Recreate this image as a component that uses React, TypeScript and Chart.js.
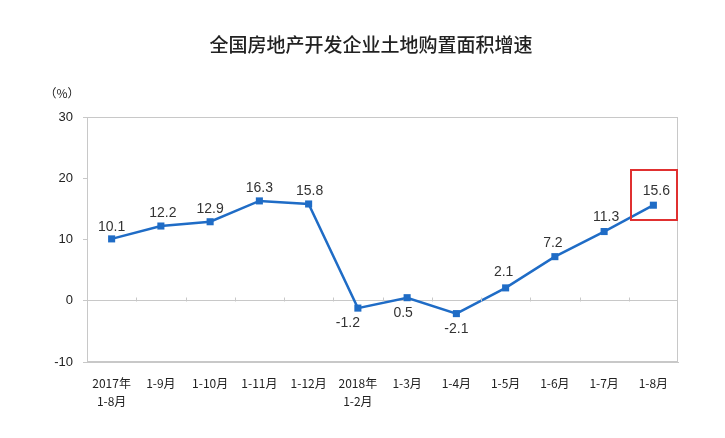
import React, { useEffect, useRef } from "react";
import { Chart, registerables } from "chart.js";

Chart.register(...registerables);

const titleText = "全国房地产开发企业土地购置面积增速";
const unitText = "（%）";
const categories: (string | string[])[] = [
  ["2017年", "1-8月"], "1-9月", "1-10月", "1-11月", "1-12月",
  ["2018年", "1-2月"], "1-3月", "1-4月", "1-5月", "1-6月", "1-7月", "1-8月",
];
const growth = [10.1, 12.2, 12.9, 16.3, 15.8, -1.2, 0.5, -2.1, 2.1, 7.2, 11.3, 15.6];
const yTicks = [-10, 0, 10, 20, 30];
// label placement (style): dx, dy relative to point
const labelDx = [0, 2, 0, 0, 1, -10, -4, 0, -2, -2, 2, 3];
const labelDy = [-12, -13, -13, -13, -13, 15, 15, 16, -16, -14, -14, -14];

const BLUE = "#1f6cc6";
const GRAY = "#c8c8c8";

export default function App() {
  const ref = useRef<HTMLCanvasElement>(null);
  useEffect(() => {
    if (!ref.current) return;
    const overlay = {
      id: "overlay",
      afterDatasetsDraw(chart: any) {
        const { ctx, chartArea, scales } = chart;
        const y = scales.y;
        const x = scales.x;
        ctx.save();
        ctx.strokeStyle = GRAY;
        ctx.lineWidth = 1;
        ctx.strokeRect(chartArea.left + 0.5, chartArea.top + 0.5, chartArea.right - chartArea.left - 1, chartArea.bottom - chartArea.top - 1);
        const zy = Math.round(y.getPixelForValue(0)) + 0.5;
        ctx.beginPath();
        for (let i = 1; i < categories.length; i++) {
          const bx = Math.round((x.getPixelForValue(i - 1) + x.getPixelForValue(i)) / 2) + 0.5;
          ctx.moveTo(bx, zy - 4);
          ctx.lineTo(bx, zy);
        }
        ctx.stroke();
        const meta = chart.getDatasetMeta(0);
        ctx.fillStyle = "#333";
        ctx.font = "14px 'Liberation Sans', Arial, sans-serif";
        ctx.textAlign = "center";
        ctx.textBaseline = "middle";
        meta.data.forEach((pt: any, i: number) => {
          ctx.fillText(growth[i].toFixed(1), pt.x + labelDx[i], pt.y + labelDy[i]);
        });
        const last = meta.data[meta.data.length - 1];
        ctx.strokeStyle = "#e03030";
        ctx.lineWidth = 2;
        ctx.strokeRect(Math.round(last.x) - 22, Math.round(last.y) - 35, 46, 50);
        ctx.restore();
      },
      afterDraw(chart: any) {
        const { ctx } = chart;
        ctx.save();
        ctx.fillStyle = "#222";
        ctx.textAlign = "center";
        ctx.textBaseline = "middle";
        ctx.font = "500 19px 'Noto Sans CJK SC', sans-serif";
        ctx.fillText(titleText, 371, 45);
        ctx.font = "12px 'Noto Sans CJK SC', sans-serif";
        ctx.fillText(unitText, 62, 93);
        ctx.restore();
      },
    };
    const chart = new Chart(ref.current, {
      type: "line",
      data: {
        labels: categories,
        datasets: [
          {
            data: growth,
            borderColor: BLUE,
            backgroundColor: BLUE,
            borderWidth: 2.5,
            pointStyle: "rect",
            pointRadius: 5,
            pointBorderWidth: 0,
            tension: 0,
          },
        ],
      },
      options: {
        animation: false,
        responsive: false,
        layout: { padding: { left: 0, right: 47, top: 117, bottom: 0 } },
        plugins: { legend: { display: false }, title: { display: false }, tooltip: { enabled: false } },
        scales: {
          x: {
            offset: true,
            grid: { display: false },
            border: { display: true, color: GRAY },
            ticks: {
              color: "#222",
              font: { family: "'Noto Sans CJK SC', sans-serif", size: 12, lineHeight: 1.55 },
              padding: 4,
              maxRotation: 0,
              autoSkip: false,
            },
            afterFit(scale: any) {
              scale.height = 76;
            },
          },
          y: {
            min: -10,
            max: 30,
            afterBuildTicks(scale: any) {
              scale.ticks = yTicks.map((v) => ({ value: v }));
            },
            grid: {
              color: (c: any) => (c.tick && c.tick.value === 0 ? GRAY : "rgba(0,0,0,0)"),
              tickColor: GRAY,
              tickLength: 4,
            },
            border: { display: true, color: GRAY },
            ticks: {
              color: "#222",
              font: { family: "'Liberation Sans', Arial, sans-serif", size: 13 },
              padding: 10,
            },
            afterFit(scale: any) {
              scale.width = 87;
            },
          },
        },
      },
      plugins: [overlay],
    } as any);
    return () => chart.destroy();
  }, []);
  return (
    <div style={{ position: "absolute", left: 0, top: 0, width: 725, height: 438, background: "#fff" }}>
      <canvas ref={ref} width={725} height={438} style={{ width: 725, height: 438 }} />
    </div>
  );
}
